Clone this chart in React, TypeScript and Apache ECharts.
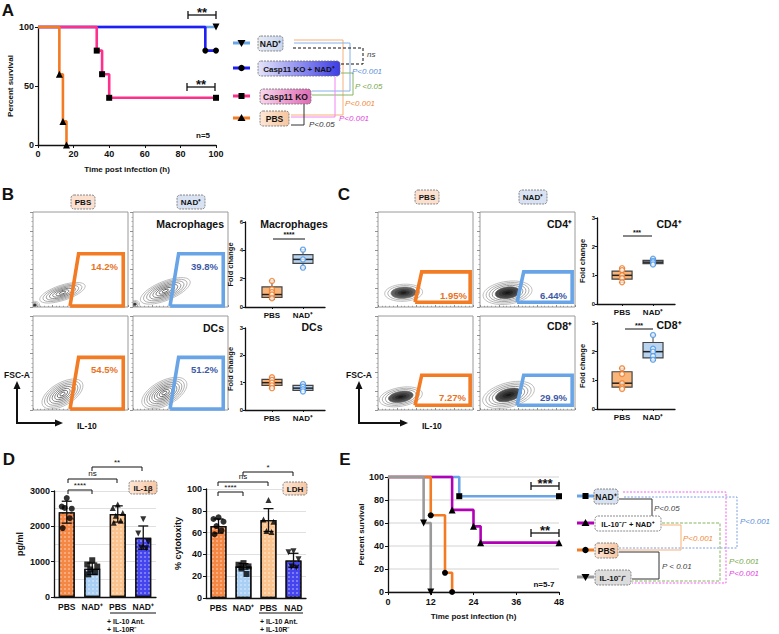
import React, { useEffect, useRef } from "react";
import * as echarts from "echarts";

const FONT = "'Liberation Sans', Arial, sans-serif";

// ---------- Panel A (survival, Casp11) ----------
const A_NAD = [[0, 100], [100, 100]];
const A_CASP_NAD = [[0, 100], [94, 80], [100, 80]];
const A_CASP = [[0, 100], [33, 80], [36, 60], [40, 40], [100, 40]];
const A_PBS = [[0, 100], [12, 60], [14, 20], [16, 0]];

// ---------- Panel B / C flow plots: contour populations [cx, cy, rx, ry, rotDeg, rings, coreFraction]
const FLOW_B_MAC_PBS = [[31, 15, 25, 8, 18, 7, 0], [2, 2, 5, 4, 0, 3, 0.6]];
const FLOW_B_MAC_NAD = [[34, 17, 28, 10, 22, 8, 0], [2, 3, 5, 4, 0, 3, 0.6]];
const FLOW_B_DC_PBS = [[31, 17, 24, 12, 30, 8, 0]];
const FLOW_B_DC_NAD = [[33, 18, 26, 13, 28, 9, 0]];
const FLOW_C_CD4_PBS = [[27, 15, 20, 9, 3, 6, 0.7]];
const FLOW_C_CD4_NAD = [[29, 15, 26, 12, 8, 8, 0.5]];
const FLOW_C_CD8_PBS = [[24, 14, 23, 10, 10, 7, 0.6]];
const FLOW_C_CD8_NAD = [[30, 16, 28, 13, 15, 8, 0.55]];
const GATE_B = [[39, 1], [48, 56], [95, 56], [95, 1], [39, 1]];
const GATE_C = [[39, 5], [46, 37], [97, 37], [97, 5], [39, 5]];

// ---------- Box plots [min, q1, median, q3, max]
const BOX_CATS = ["PBS", "NAD⁺"];
const MAC_BOX = [[0.55, 0.68, 0.88, 1.42, 1.85], [2.75, 3.08, 3.36, 3.7, 4.05]];
const MAC_PTS = [[1.84, 1.25, 1.05, 0.88, 0.62], [4.05, 3.36, 2.78]];
const DC_BOX = [[0.8, 0.9, 1.0, 1.12, 1.2], [0.68, 0.72, 0.8, 0.9, 0.95]];
const DC_PTS = [[1.2, 1.1, 1.0, 0.9, 0.8], [0.95, 0.85, 0.76, 0.68]];
const CD4_BOX = [[0.75, 0.87, 1.0, 1.15, 1.25], [1.36, 1.41, 1.46, 1.52, 1.58]];
const CD4_PTS = [[1.25, 1.18, 1.0, 0.9, 0.76], [1.58, 1.5, 1.45, 1.38]];
const CD8_BOX = [[0.7, 0.76, 0.9, 1.3, 1.42], [1.7, 1.78, 2.0, 2.32, 2.58]];
const CD8_PTS = [[1.42, 1.22, 0.9, 0.76, 0.7], [2.58, 2.1, 2.0, 1.85, 1.72]];

// ---------- Panel D
const D_CATS = ["PBS", "NAD⁺", "PBS", "NAD⁺"];
const LDH_CATS = ["PBS", "NAD⁺", "PBS", "NAD"];
const IL1B_MEAN = [2400, 800, 2350, 1680];
const IL1B_SD = [310, 160, 230, 330];
const IL1B_PTS = [[2800, 2560, 2500, 2520, 2230, 1950], [1040, 920, 860, 780, 700, 640], [2620, 2520, 2380, 2300, 2160, 2100], [2200, 1800, 1560, 1400, 1380]];
const LDH_MEAN = [66, 29, 71.5, 34.5];
const LDH_SD = [6.5, 2.5, 10.5, 6.5];
const LDH_PTS = [[74, 72.5, 70, 66, 62, 58.5], [32, 30.5, 29, 27, 22], [90, 72, 70, 61.5, 60.5], [43, 42, 35.5, 29, 28]];

// ---------- Panel E (survival, IL-10)
const E_NAD = [[0, 100], [20, 83.3], [48, 83.3]];
const E_IL10_NAD = [[0, 100], [18, 71.4], [24, 57.1], [26, 42.9], [48, 42.9]];
const E_PBS = [[0, 100], [12, 66.7], [16, 16.7], [18, 0]];
const E_IL10 = [[0, 100], [10, 60], [12, 0]];

const C_ORANGE = "#f27b24";
const C_LBLUE = "#69a5e6";
const C_BLUE = "#1f1ff5";
const C_PINK = "#ff2f8c";
const C_MAG = "#b100b5";
const C_GREY = "#9a9a9a";
const C_DKBLUE = "#3d5aa6";

const lbl = (size = 9, extra: any = {}) => ({ fontFamily: FONT, fontWeight: "bold", fontSize: size, color: "#111", ...extra });
const blackLine = { show: true, lineStyle: { color: "#111", width: 1.3 } };

function contourRender(params: any, api: any) {
  const c = api.coord([api.value(0), api.value(1)]);
  const s = api.size([api.value(2), api.value(3)]);
  const rot = (api.value(4) * Math.PI) / 180;
  const n = api.value(5);
  const core = api.value(6);
  const children: any[] = [];
  for (let k = n; k >= 1; k--) {
    const f = k / n;
    const shade = Math.round(170 - 140 * (1 - f));
    const filled = core > 0 && f <= core;
    children.push({
      type: "ellipse",
      shape: { cx: 0, cy: 0, rx: Math.abs(s[0]) * f, ry: Math.abs(s[1]) * f },
      style: { fill: filled ? `rgb(${shade - 25},${shade - 25},${shade - 25})` : "none", stroke: `rgb(${shade},${shade},${shade})`, lineWidth: 0.7 },
    });
  }
  return { type: "group", x: c[0], y: c[1], rotation: rot, children };
}

function boxRender(params: any, api: any) {
  const x = api.value(0);
  const v = [1, 2, 3, 4, 5].map((k) => api.value(k));
  const p = v.map((val) => api.coord([x, val]));
  const hw = 10, cw = 3;
  const fill = x === 1 ? "#f9b479" : "#b9d4f1";
  const stroke = "#444";
  return {
    type: "group",
    children: [
      { type: "line", shape: { x1: p[0][0], y1: p[0][1], x2: p[4][0], y2: p[4][1] }, style: { stroke, lineWidth: 1 } },
      { type: "line", shape: { x1: p[0][0] - cw, y1: p[0][1], x2: p[0][0] + cw, y2: p[0][1] }, style: { stroke, lineWidth: 1 } },
      { type: "line", shape: { x1: p[4][0] - cw, y1: p[4][1], x2: p[4][0] + cw, y2: p[4][1] }, style: { stroke, lineWidth: 1 } },
      { type: "rect", shape: { x: p[3][0] - hw, y: p[3][1], width: 2 * hw, height: p[1][1] - p[3][1] }, style: { fill, stroke, lineWidth: 1.2 } },
      { type: "line", shape: { x1: p[2][0] - hw, y1: p[2][1], x2: p[2][0] + hw, y2: p[2][1] }, style: { stroke: "#222", lineWidth: 1.5 } },
    ],
  };
}

function errRender(params: any, api: any) {
  const i = api.value(0), m = api.value(1), sd = api.value(2);
  const t = api.coord([i, m + sd]);
  const b = api.coord([i, m - sd]);
  const cw = 5;
  const st = { stroke: "#111", lineWidth: 1.3 };
  return {
    type: "group",
    children: [
      { type: "line", shape: { x1: t[0], y1: t[1], x2: b[0], y2: b[1] }, style: st },
      { type: "line", shape: { x1: t[0] - cw, y1: t[1], x2: t[0] + cw, y2: t[1] }, style: st },
      { type: "line", shape: { x1: b[0] - cw, y1: b[1], x2: b[0] + cw, y2: b[1] }, style: st },
    ],
  };
}

const JIT = [0, -5, 5, -2, 3, -4];
const D_SYM = ["circle", "rect", "triangle", "triangle"];

function buildOption() {
  const grids: any[] = [
    { left: 38, top: 27, width: 178, height: 118 }, // 0 A
    { left: 33, top: 212, width: 95, height: 95, flow: true }, // 1
    { left: 133, top: 212, width: 95, height: 95, flow: true }, // 2
    { left: 33, top: 316, width: 95, height: 94, flow: true }, // 3
    { left: 133, top: 316, width: 95, height: 94, flow: true }, // 4
    { left: 245, top: 222, width: 80, height: 85 }, // 5 mac box
    { left: 245, top: 328, width: 80, height: 82 }, // 6 dc box
    { left: 378, top: 212, width: 95, height: 95, flow: true }, // 7
    { left: 480, top: 212, width: 95, height: 95, flow: true }, // 8
    { left: 378, top: 316, width: 95, height: 94, flow: true }, // 9
    { left: 480, top: 316, width: 95, height: 94, flow: true }, // 10
    { left: 597, top: 218, width: 78, height: 86 }, // 11 cd4 box
    { left: 597, top: 323, width: 78, height: 86 }, // 12 cd8 box
    { left: 54, top: 491, width: 102, height: 106 }, // 13 IL1b
    { left: 206, top: 489, width: 100, height: 109 }, // 14 LDH
    { left: 388, top: 477, width: 171, height: 115 }, // 15 E
  ];
  const grid = grids.map((g) => ({
    left: g.left, top: g.top, width: g.width, height: g.height,
    containLabel: false, outerBoundsMode: "none",
    show: !!g.flow, borderColor: "#9a9a9a", borderWidth: 1, backgroundColor: "#fff",
  }));

  const xAxis: any[] = [];
  const yAxis: any[] = [];

  // A
  xAxis.push({ type: "value", gridIndex: 0, min: 0, max: 100, interval: 20, axisLine: blackLine, axisTick: { show: true, length: 3, lineStyle: { color: "#111" } }, splitLine: { show: false }, axisLabel: lbl(9, { margin: 4 }), name: "Time post infection (h)", nameLocation: "middle", nameGap: 20, nameTextStyle: lbl(8) });
  yAxis.push({ type: "value", gridIndex: 0, min: 0, max: 100, interval: 50, axisLine: blackLine, axisTick: { show: true, length: 3, lineStyle: { color: "#111" } }, splitLine: { show: false }, axisLabel: lbl(9, { margin: 4 }), name: "Percent survival", nameLocation: "middle", nameGap: 24, nameTextStyle: lbl(8) });

  const flowAx = (g: number) => {
    xAxis[g] = { type: "value", gridIndex: g, min: 0, max: 100, interval: 20, axisLine: { show: false }, axisLabel: { show: false }, splitLine: { show: false }, axisTick: { show: true, inside: true, length: 2, lineStyle: { color: "#777", width: 0.8 } }, minorTick: { show: true, splitNumber: 5, length: 1.2, lineStyle: { color: "#999" } } };
    yAxis[g] = { type: "value", gridIndex: g, min: 0, max: 100, interval: 20, axisLine: { show: false }, axisLabel: { show: false }, splitLine: { show: false }, axisTick: { show: true, length: 3, lineStyle: { color: "#777", width: 0.8 } }, minorTick: { show: true, splitNumber: 4, length: 1.5, lineStyle: { color: "#aaa" } } };
  };
  const boxAx = (g: number, min: number, max: number, ymax: number, yint: number) => {
    xAxis[g] = { type: "value", gridIndex: g, min, max, axisLine: blackLine, splitLine: { show: false }, axisTick: { show: true, customValues: [1, 2], length: 2, lineStyle: { color: "#111" } }, axisLabel: { ...lbl(8), customValues: [1, 2], margin: 4, formatter: (v: number) => BOX_CATS[Math.round(v) - 1] || "" } };
    yAxis[g] = { type: "value", gridIndex: g, min: 0, max: ymax, interval: yint, axisLine: blackLine, splitLine: { show: false }, axisTick: { show: true, length: 2, lineStyle: { color: "#111" } }, axisLabel: lbl(6, { margin: 2 }), name: "Fold change", nameLocation: "middle", nameGap: 11, nameTextStyle: lbl(7.5) };
  };
  [1, 2, 3, 4, 7, 8, 9, 10].forEach(flowAx);
  boxAx(5, 0.13, 2.71, 6, 2);
  boxAx(6, 0.13, 2.71, 3, 1);
  boxAx(11, 0.19, 2.71, 3, 1);
  boxAx(12, 0.19, 2.71, 3, 1);

  const barX = (g: number, cats: string[]) => ({ type: "category", gridIndex: g, data: cats, axisLine: blackLine, axisTick: { show: false }, splitLine: { show: false }, axisLabel: lbl(8.5, { margin: 5, interval: 0, hideOverlap: false }) });
  xAxis[13] = barX(13, D_CATS);
  xAxis[14] = barX(14, LDH_CATS);
  const plain = (v: number) => String(v);
  yAxis[13] = { type: "value", gridIndex: 13, min: 0, max: 3000, interval: 1000, axisLine: blackLine, axisTick: { show: true, length: 3, lineStyle: { color: "#111" } }, splitLine: { show: true, lineStyle: { color: "#e0e0e0", width: 1.2 } }, minorTick: { show: false, splitNumber: 2 }, minorSplitLine: { show: true, lineStyle: { color: "#e0e0e0", width: 1.2 } }, axisLabel: lbl(9, { margin: 4, formatter: plain }), name: "pg/ml", nameLocation: "middle", nameGap: 30, nameTextStyle: lbl(9) };
  yAxis[14] = { type: "value", gridIndex: 14, min: 0, max: 100, interval: 20, axisLine: blackLine, axisTick: { show: true, length: 3, lineStyle: { color: "#111" } }, splitLine: { show: true, lineStyle: { color: "#e0e0e0", width: 1.2 } }, axisLabel: lbl(9, { margin: 4, formatter: plain }), name: "% cytotoxity", nameLocation: "middle", nameGap: 24, nameTextStyle: lbl(9) };

  xAxis[15] = { type: "value", gridIndex: 15, min: 0, max: 48, interval: 12, axisLine: blackLine, axisTick: { show: true, length: 3, lineStyle: { color: "#111" } }, splitLine: { show: false }, axisLabel: lbl(9, { margin: 5 }), name: "Time post infection (h)", nameLocation: "middle", nameGap: 20, nameTextStyle: lbl(8) };
  yAxis[15] = { type: "value", gridIndex: 15, min: 0, max: 100, interval: 20, axisLine: blackLine, axisTick: { show: true, length: 3, lineStyle: { color: "#111" } }, splitLine: { show: true, lineStyle: { color: "#e2e2e2", width: 1.5 } }, axisLabel: lbl(9, { margin: 4 }), name: "Percent survival", nameLocation: "middle", nameGap: 23, nameTextStyle: lbl(8) };

  const series: any[] = [];
  const km = (g: number, name: string, data: number[][], color: string, symbol: string, rot = 0) => {
    series.push({
      type: "line", name, xAxisIndex: g, yAxisIndex: g, step: "end", clip: false,
      data: data.map((p, i) => (i === 0 ? { value: p, symbol: "none" } : { value: p })),
      symbol, symbolSize: symbol === "triangle" ? 7 : 6, symbolRotate: rot, showAllSymbol: true,
      itemStyle: { color: "#000" }, lineStyle: { color, width: 2.6 }, z: 3,
    });
  };
  km(0, "a-nad", A_NAD, C_LBLUE, "triangle", 180);
  km(0, "a-casp-nad", A_CASP_NAD, C_BLUE, "circle");
  km(0, "a-casp", A_CASP, C_PINK, "rect");
  km(0, "a-pbs", A_PBS, C_ORANGE, "triangle");

  km(15, "e-nad", E_NAD, C_LBLUE, "rect");
  km(15, "e-il10-nad", E_IL10_NAD, C_MAG, "triangle");
  km(15, "e-pbs", E_PBS, C_ORANGE, "circle");
  km(15, "e-il10", E_IL10, C_GREY, "triangle", 180);

  const flow = (g: number, pops: number[][], gate: number[][], gcol: string) => {
    series.push({ type: "custom", xAxisIndex: g, yAxisIndex: g, data: pops, renderItem: contourRender, clip: true, z: 2 });
    series.push({ type: "line", xAxisIndex: g, yAxisIndex: g, data: gate, symbol: "none", clip: false, lineStyle: { color: gcol, width: 3.6, join: "miter" }, z: 4 });
  };
  flow(1, FLOW_B_MAC_PBS, GATE_B, C_ORANGE);
  flow(2, FLOW_B_MAC_NAD, GATE_B, C_LBLUE);
  flow(3, FLOW_B_DC_PBS, GATE_B, C_ORANGE);
  flow(4, FLOW_B_DC_NAD, GATE_B, C_LBLUE);
  flow(7, FLOW_C_CD4_PBS, GATE_C, C_ORANGE);
  flow(8, FLOW_C_CD4_NAD, GATE_C, C_LBLUE);
  flow(9, FLOW_C_CD8_PBS, GATE_C, C_ORANGE);
  flow(10, FLOW_C_CD8_NAD, GATE_C, C_LBLUE);

  const boxes = (g: number, box: number[][], pts: number[][]) => {
    series.push({ type: "custom", xAxisIndex: g, yAxisIndex: g, data: box.map((b, i) => [i + 1, ...b]), renderItem: boxRender, z: 3 });
    series.push({
      type: "scatter", xAxisIndex: g, yAxisIndex: g, symbol: "circle", symbolSize: 5, z: 4,
      data: pts.flatMap((arr, i) => arr.map((v) => ({ value: [i + 1, v], itemStyle: { color: "#fff", borderColor: i === 0 ? C_ORANGE : "#4d98ea", borderWidth: 1.4 } }))),
    });
  };
  boxes(5, MAC_BOX, MAC_PTS);
  boxes(6, DC_BOX, DC_PTS);
  boxes(11, CD4_BOX, CD4_PTS);
  boxes(12, CD8_BOX, CD8_PTS);

  const BAR_COLORS = ["#f58745", "#a9cff4", "#fbc48e", "#4545f0"];
  const decal = { symbol: "rect", symbolSize: 1, dashArrayX: [2, 2], dashArrayY: [2, 2], color: "rgba(255,255,255,0.3)" };
  const bars = (g: number, mean: number[], sd: number[], pts: number[][]) => {
    series.push({
      type: "bar", xAxisIndex: g, yAxisIndex: g, barWidth: 16, z: 2,
      data: mean.map((v, i) => ({ value: v, itemStyle: { color: BAR_COLORS[i], borderColor: "#111", borderWidth: 1.3, decal } })),
    });
    series.push({ type: "custom", xAxisIndex: g, yAxisIndex: g, data: mean.map((m, i) => [i, m, sd[i]]), renderItem: errRender, z: 3 });
    series.push({
      type: "scatter", xAxisIndex: g, yAxisIndex: g, symbolSize: 6, z: 4, itemStyle: { color: "#000" },
      data: pts.flatMap((arr, i) => arr.map((v, j) => ({ value: [i, v], symbol: D_SYM[i], symbolRotate: i === 3 ? 180 : 0, symbolOffset: [JIT[j], 0] }))),
    });
  };
  bars(13, IL1B_MEAN, IL1B_SD, IL1B_PTS);
  bars(14, LDH_MEAN, LDH_SD, LDH_PTS);

  // ---------- graphic annotations
  const G: any[] = [];
  const txt = (x: number, y: number, text: string, o: any = {}) =>
    G.push({
      type: "text", x, y, z: 100,
      style: { text, fill: o.fill || "#111", fontFamily: o.font || FONT, fontSize: o.size || 9, fontWeight: o.weight || "bold", fontStyle: o.italic ? "italic" : "normal", align: o.align || "center", verticalAlign: "middle" },
    });
  const ln = (pts: number[][], color: string, width = 1, dash?: number[]) =>
    G.push({ type: "polyline", z: 90, shape: { points: pts }, style: { stroke: color, lineWidth: width, lineDash: dash, fill: "none" } });
  const grad = (a: string, b: string) => ({ type: "linear", x: 0, y: 0, x2: 1, y2: 0, colorStops: [{ offset: 0, color: a }, { offset: 1, color: b }] });
  const tag = (x: number, y: number, w: number, h: number, text: string, fill: any, size = 9) => {
    G.push({ type: "rect", z: 95, shape: { x, y, width: w, height: h, r: 3 }, style: { fill, stroke: "#6d6d6d", lineWidth: 0.8, lineDash: [2, 1] } });
    txt(x + w / 2, y + h / 2 + 0.5, text, { size });
  };
  const marker = (x: number, y: number, sym: string) => {
    if (sym === "rect") G.push({ type: "rect", z: 96, shape: { x: x - 3, y: y - 3, width: 6, height: 6 }, style: { fill: "#000" } });
    else if (sym === "circle") G.push({ type: "circle", z: 96, shape: { cx: x, cy: y, r: 3.2 }, style: { fill: "#000" } });
    else if (sym === "tri") G.push({ type: "polygon", z: 96, shape: { points: [[x, y - 4], [x + 4, y + 3], [x - 4, y + 3]] }, style: { fill: "#000" } });
    else G.push({ type: "polygon", z: 96, shape: { points: [[x, y + 4], [x + 4, y - 3], [x - 4, y - 3]] }, style: { fill: "#000" } });
  };
  const legMark = (x: number, y: number, color: string, sym: string) => {
    ln([[x, y], [x + 17, y]], color, 3);
    marker(x + 8.5, y, sym);
  };
  const hBracket = (x1: number, x2: number, y: number, label: string, ty: number) => {
    ln([[x1, y], [x2, y]], "#111", 1.3);
    ln([[x1, y - 4], [x1, y + 4]], "#111", 1.3);
    ln([[x2, y - 4], [x2, y + 4]], "#111", 1.3);
    txt((x1 + x2) / 2, ty, label, { size: 13 });
  };
  const dBracket = (x1: number, x2: number, y: number, label: string, ty: number) => {
    ln([[x1, y + 4], [x1, y], [x2, y], [x2, y + 4]], "#111", 1);
    txt((x1 + x2) / 2, ty, label, { size: 8, weight: "normal" });
  };

  // panel letters
  txt(8, 10, "A", { size: 17 });
  txt(8, 194, "B", { size: 17 });
  txt(344, 194, "C", { size: 17 });
  txt(9, 459, "D", { size: 17 });
  txt(345, 459, "E", { size: 17 });

  // Panel A annotations
  hBracket(188, 216, 15, "**", 12);
  hBracket(187, 215, 87, "**", 84);
  txt(203, 135, "n=5", { size: 8 });
  legMark(233, 43, C_LBLUE, "tridown");
  legMark(233, 68, C_BLUE, "circle");
  legMark(233, 96, C_PINK, "rect");
  legMark(233, 118, C_ORANGE, "tri");
  tag(258, 36, 25, 15, "NAD⁺", grad("#e6ebf5", "#c9d6ee"), 8.5);
  tag(258, 61, 82, 15, "Casp11 KO + NAD⁺", grad("#e4e4fb", "#3d3de6"), 8);
  tag(260, 89, 51, 15, "Casp11 KO", grad("#f8d6ec", "#e06ab5"), 8.5);
  tag(260, 111, 29, 15, "PBS", grad("#fde6d6", "#f7c69e"), 8.5);
  ln([[294, 40], [343, 40], [343, 115], [291, 115]], "#f7b17a", 1);
  ln([[294, 43], [350, 43], [350, 91], [312, 91]], "#86b0ea", 1);
  ln([[293, 48], [363, 48], [363, 64], [341, 64]], "#111", 1, [3, 2]);
  ln([[341, 73], [353, 73], [353, 95], [312, 95]], "#86b466", 1);
  ln([[335, 77], [335, 117], [291, 117]], "#f285f0", 1);
  ln([[304, 104], [304, 125], [291, 125]], "#333", 1);
  txt(367, 54, "ns", { size: 8, weight: "normal", italic: true, align: "left", fill: "#444" });
  txt(352, 71, "P<0.001", { size: 8, weight: "normal", italic: true, align: "left", fill: "#5b8fd8" });
  txt(355, 86, "P <0.05", { size: 8, weight: "normal", italic: true, align: "left", fill: "#78a84c" });
  txt(345, 103, "P<0.001", { size: 8, weight: "normal", italic: true, align: "left", fill: "#f08a3a" });
  txt(339, 118, "P<0.001", { size: 8, weight: "normal", italic: true, align: "left", fill: "#e23fe0" });
  txt(309, 124, "P<0.05", { size: 8, weight: "normal", italic: true, align: "left", fill: "#333" });

  // Panel B / C headers
  tag(71, 195, 24, 14, "PBS", "#fbe0cf", 8);
  tag(177, 195, 28, 14, "NAD⁺", "#d9e2f2", 8);
  tag(415, 190, 24, 14, "PBS", "#fbe0cf", 8);
  tag(519, 190, 28, 14, "NAD⁺", "#d9e2f2", 8);

  // flow labels
  txt(224, 224, "Macrophages", { size: 10.5, align: "right" });
  txt(224, 328, "DCs", { size: 10.5, align: "right" });
  txt(572, 224, "CD4⁺", { size: 10.5, align: "right" });
  txt(572, 326, "CD8⁺", { size: 10.5, align: "right" });
  txt(118, 266, "14.2%", { size: 9.5, align: "right", fill: "#e8731f" });
  txt(218, 266, "39.8%", { size: 9.5, align: "right", fill: C_DKBLUE });
  txt(118, 369, "54.5%", { size: 9.5, align: "right", fill: "#e8731f" });
  txt(218, 369, "51.2%", { size: 9.5, align: "right", fill: C_DKBLUE });
  txt(467, 295, "1.95%", { size: 9.5, align: "right", fill: "#e8731f" });
  txt(567, 295, "6.44%", { size: 9.5, align: "right", fill: C_DKBLUE });
  txt(466, 397, "7.27%", { size: 9.5, align: "right", fill: "#e8731f" });
  txt(567, 397, "29.9%", { size: 9.5, align: "right", fill: C_DKBLUE });

  // FSC-A / IL-10 arrows
  const arrows = (x: number, xEnd: number) => {
    ln([[x, 386], [x, 423], [xEnd - 5, 423]], "#111", 2);
    G.push({ type: "polygon", z: 96, shape: { points: [[x, 381], [x - 3.5, 389], [x + 3.5, 389]] }, style: { fill: "#111" } });
    G.push({ type: "polygon", z: 96, shape: { points: [[xEnd, 423], [xEnd - 8, 419.5], [xEnd - 8, 426.5]] }, style: { fill: "#111" } });
    txt(x, 375, "FSC-A", { size: 8.5 });
    txt(xEnd + 14, 426, "IL-10", { size: 8.5, align: "left" });
  };
  arrows(17, 63);
  arrows(359, 408);

  // box plot titles & stats
  txt(294, 224, "Macrophages", { size: 10.5 });
  ln([[273, 239], [305, 239]], "#111", 1);
  txt(289, 234, "****", { size: 7 });
  txt(312, 327, "DCs", { size: 10.5 });
  txt(669, 224, "CD4⁺", { size: 10.5 });
  ln([[623, 236], [652, 236]], "#111", 1);
  txt(637, 232, "***", { size: 7 });
  txt(669, 325, "CD8⁺", { size: 10.5 });
  ln([[625, 329], [653, 329]], "#111", 1);
  txt(639, 325, "***", { size: 7 });

  // Panel D annotations
  dBracket(68, 92, 490, "****", 485);
  dBracket(68, 117, 479, "ns", 473);
  dBracket(92, 142, 467, "**", 462);
  tag(129, 481, 28, 13, "IL-1β", grad("#fde6d6", "#f8c7a4"), 8);
  dBracket(218, 243, 492, "****", 487);
  dBracket(218, 268, 482, "ns", 476);
  dBracket(243, 293, 472, "*", 467);
  tag(283, 482, 24, 13, "LDH", grad("#fde6d6", "#f8c7a4"), 8);
  ln([[110, 613], [156, 613]], "#111", 1.2);
  txt(107, 621, "+ IL-10 Ant.", { size: 7, align: "left" });
  txt(107, 629, "+ IL-10R⁻", { size: 7, align: "left" });
  ln([[259, 613], [303, 613]], "#111", 1.2);
  txt(260, 621, "+ IL-10 Ant.", { size: 7, align: "left" });
  txt(260, 629, "+ IL-10R⁻", { size: 7, align: "left" });

  // Panel E annotations
  hBracket(531, 559, 486, "***", 483);
  hBracket(531, 559, 533, "**", 530);
  txt(544, 584, "n=5-7", { size: 8 });
  legMark(577, 496, C_LBLUE, "rect");
  legMark(577, 523, C_MAG, "tri");
  legMark(577, 550, C_ORANGE, "circle");
  legMark(577, 577, C_GREY, "tridown");
  tag(594, 489, 24, 15, "NAD⁺", "#d8e1f0", 8.5);
  tag(595, 516, 66, 15, "IL-10⁻/⁻ + NAD⁺", "#ffffff", 7.5);
  tag(595, 543, 23, 15, "PBS", grad("#fde6d6", "#f8c7a4"), 8.5);
  tag(595, 570, 36, 15, "IL-10⁻/⁻", "#dcdcdc", 8);
  ln([[623, 492], [726, 492], [726, 583], [632, 583]], "#f35ef0", 1, [2, 1.5]);
  ln([[624, 497], [737, 497], [737, 548], [619, 548]], "#7d9fe0", 1, [2, 1.5]);
  ln([[662, 523], [720, 523], [720, 581], [632, 581]], "#84b45c", 1, [3, 1.5]);
  ln([[619, 499], [652, 499], [652, 516]], "#333", 1);
  ln([[662, 525], [681, 525], [681, 550], [619, 550]], "#f7b07a", 1);
  ln([[619, 552], [659, 552], [659, 579], [632, 579]], "#333", 1);
  txt(654, 508, "P<0.05", { size: 8, weight: "normal", italic: true, align: "left", fill: "#444" });
  txt(683, 538, "P<0.001", { size: 8, weight: "normal", italic: true, align: "left", fill: "#f08a3a" });
  txt(662, 566, "P < 0.01", { size: 8, weight: "normal", italic: true, align: "left", fill: "#444" });
  txt(740, 521, "P<0.001", { size: 8, weight: "normal", italic: true, align: "left", fill: "#5b8fd8" });
  txt(729, 561, "P<0.001", { size: 8, weight: "normal", italic: true, align: "left", fill: "#78a84c" });
  txt(729, 573, "P<0.001", { size: 8, weight: "normal", italic: true, align: "left", fill: "#e23fe0" });

  return { animation: false, backgroundColor: "#fff", grid, xAxis, yAxis, series, graphic: G };
}

export default function App() {
  const ref = useRef<HTMLDivElement>(null);
  useEffect(() => {
    const chart = echarts.init(ref.current as HTMLDivElement, null, { renderer: "svg" });
    chart.setOption(buildOption() as any);
    return () => chart.dispose();
  }, []);
  return <div ref={ref} style={{ position: "absolute", left: 0, top: 0, width: 779, height: 634, background: "#fff" }} />;
}
